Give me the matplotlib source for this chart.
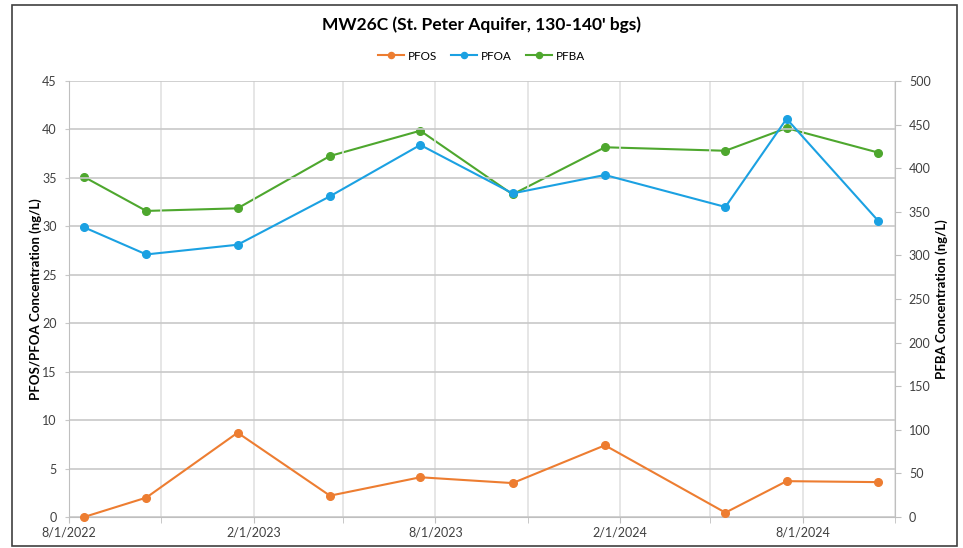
import numpy as np
import pandas as pd
import matplotlib.pyplot as plt
import matplotlib.dates as mdates
from matplotlib.patches import Rectangle

plt.rcParams['font.family'] = ['Lato', 'DejaVu Sans']

# sampling dates and concentrations (ng/L)
dates = pd.to_datetime(["2022-08-16", "2022-10-17", "2023-01-16", "2023-04-18",
                        "2023-07-17", "2023-10-17", "2024-01-17", "2024-05-16",
                        "2024-07-16", "2024-10-15"])
pfos = [0.0, 2.0, 8.7, 2.2, 4.1, 3.5, 7.4, 0.45, 3.7, 3.6]
pfoa = [29.9, 27.1, 28.1, 33.1, 38.4, 33.4, 35.3, 32.0, 41.1, 30.6]
pfba = [390, 351, 354, 414, 443, 370, 424, 420, 446, 418]

title = "MW26C (St. Peter Aquifer, 130-140' bgs)"
c_pfos, c_pfoa, c_pfba = "#ED7D31", "#1BA1E2", "#4EA72E"
grid_h, grid_v, axcol = "#c8c8c8", "#e2e2e2", "#bfbfbf"

fig = plt.figure(figsize=(9.63, 5.48), dpi=100)
fig.patches.append(Rectangle((12 / 963, 2 / 548), 945 / 963, 541 / 548,
                             transform=fig.transFigure, fill=False,
                             edgecolor="#404040", lw=1.2))

ax = fig.add_axes([69 / 963, 1 - 517 / 548, 826 / 963, 436 / 548])
ax2 = ax.twinx()

kw = dict(lw=1.5, marker="o", ms=5.5, clip_on=False)
l1, = ax.plot(dates, pfos, color=c_pfos, label="PFOS", zorder=3, **kw)
l2, = ax.plot(dates, pfoa, color=c_pfoa, label="PFOA", zorder=3, **kw)
l3, = ax2.plot(dates, pfba, color=c_pfba, label="PFBA", zorder=3, **kw)
ax.set_zorder(ax2.get_zorder() + 1)
ax.patch.set_visible(False)

ax.set_xlim(pd.Timestamp("2022-08-01"), pd.Timestamp("2024-11-01"))
ax.set_ylim(0, 45)
ax2.set_ylim(0, 500)
ax.set_yticks(np.arange(0, 46, 5))
ax2.set_yticks(np.arange(0, 501, 50))

ax.xaxis.set_major_locator(mdates.MonthLocator(bymonth=[2, 8]))
ax.xaxis.set_major_formatter(mdates.DateFormatter("%-m/%-d/%Y"))
ax.xaxis.set_minor_locator(mdates.MonthLocator(bymonth=[5, 11]))
ax.grid(axis="y", color=grid_h, lw=1.2)
ax.grid(axis="x", which="both", color=grid_v, lw=1.2)

for a in (ax, ax2):
    for s in a.spines.values():
        s.set_visible(False)
ax.spines["left"].set_visible(True)
ax.spines["left"].set_color(axcol)
ax.spines["bottom"].set_visible(True)
ax.spines["bottom"].set_color(axcol)
ax2.spines["right"].set_visible(True)
ax2.spines["right"].set_color(axcol)

ax.tick_params(axis="y", length=3, color=grid_h, labelsize=9, pad=6, labelcolor="#404040")
ax.tick_params(axis="x", which="both", length=4, color=axcol, labelsize=9, pad=3, labelcolor="#404040")
ax2.tick_params(axis="y", length=4, color=axcol, labelsize=9, pad=6, labelcolor="#404040")

ax.set_ylabel("PFOS/PFOA Concentration (ng/L)", fontsize=9.5, fontweight="bold", labelpad=0)
ax2.set_ylabel("PFBA Concentration (ng/L)", fontsize=9.5, fontweight="bold", labelpad=3)

fig.text(0.5, 1 - 25 / 548, title, ha="center", va="center", fontsize=12.5, fontweight="bold")
fig.legend(handles=[l1, l2, l3], loc="center", bbox_to_anchor=(0.5, 1 - 56 / 548),
           ncol=3, frameon=False, fontsize=8.5, handlelength=2.2, columnspacing=1.2,
           handletextpad=0.3, markerscale=0.8)

fig.savefig("out.png", dpi=100)
